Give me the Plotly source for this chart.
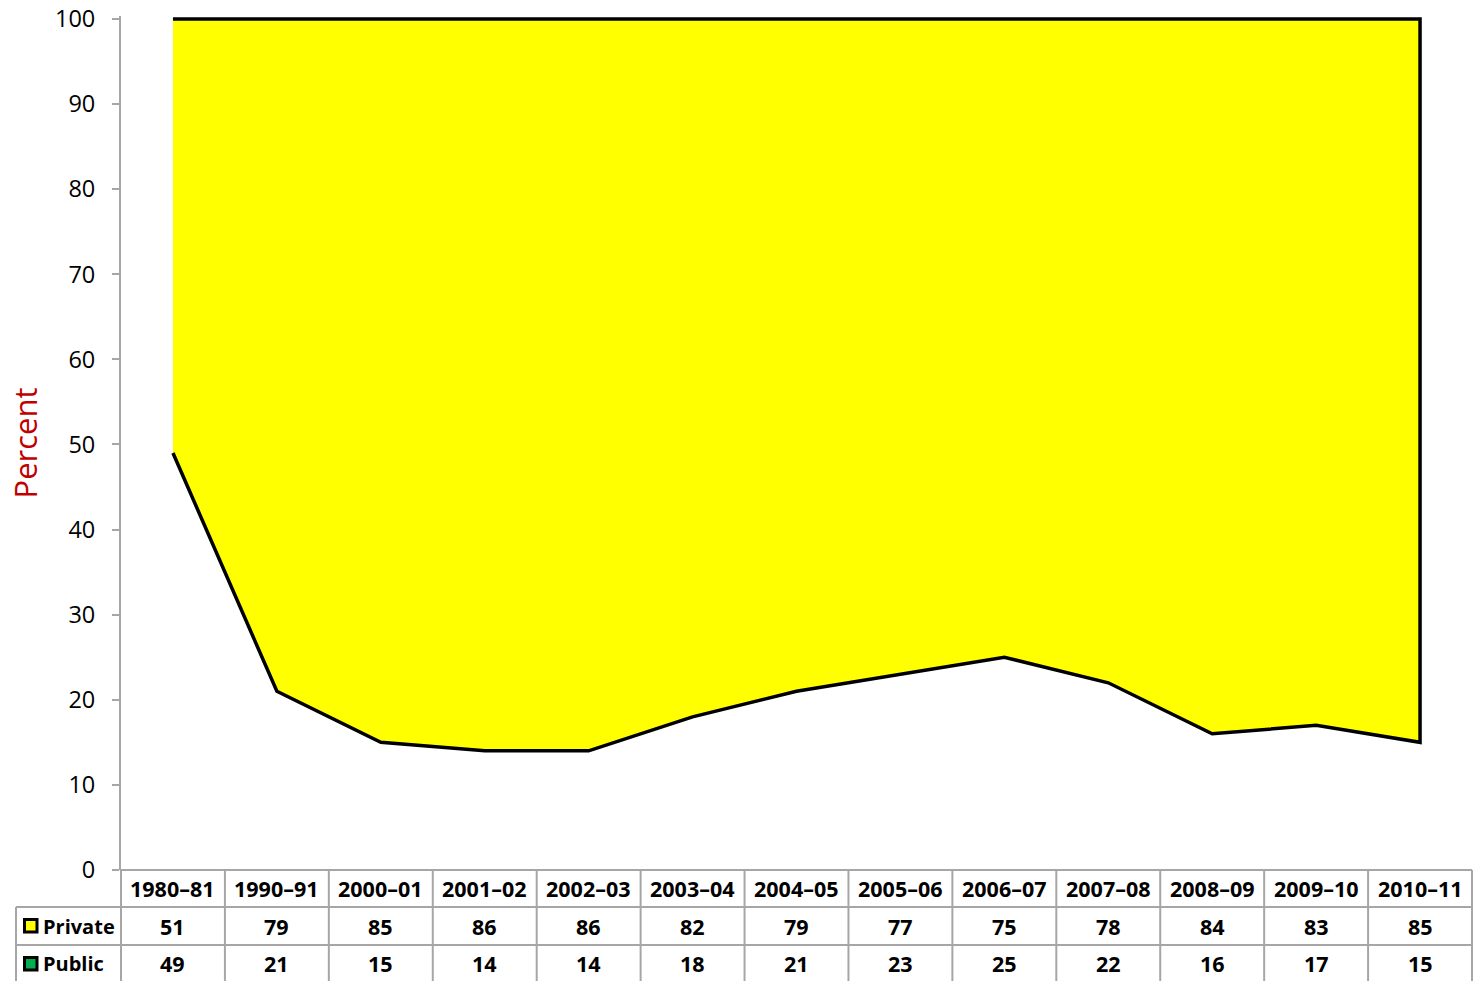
import plotly.graph_objects as go

# School-year categories and enrollment shares (percent)
years = ["1980–81", "1990–91", "2000–01", "2001–02", "2002–03", "2003–04", "2004–05",
         "2005–06", "2006–07", "2007–08", "2008–09", "2009–10", "2010–11"]
private = [51, 79, 85, 86, 86, 82, 79, 77, 75, 78, 84, 83, 85]
public = [49, 21, 15, 14, 14, 18, 21, 23, 25, 22, 16, 17, 15]
y_ticks = [0, 10, 20, 30, 40, 50, 60, 70, 80, 90, 100]

W, H = 1473, 981
ML, MR, MT, MB = 121, 1, 16, 111
FONT = "'Open Sans', Calibri, sans-serif"
GRID = "#a6a6a6"

n = len(years)
xs = list(range(n))
stack_top = [a + b for a, b in zip(public, private)]


def py(px_y):
    """Convert a pixel row to a paper y coordinate."""
    return (H - MB - px_y) / (H - MT - MB)


def px(px_x):
    """Convert a pixel column to a paper x coordinate."""
    return (px_x - ML) / (W - ML - MR)


fig = go.Figure()

# Public share: lower band of the stack, left unfilled
fig.add_trace(go.Scatter(
    x=xs, y=public, mode="lines", line=dict(width=0),
    fill="tozeroy", fillcolor="rgba(255,255,255,0)",
    name="Public", showlegend=False, hoverinfo="skip",
))

# Private share: band stacked from the public share up to the total
fig.add_trace(go.Scatter(
    x=xs + xs[::-1], y=public + stack_top[::-1],
    mode="lines", fill="toself", fillcolor="#ffff00",
    line=dict(color="black", width=3.5), name="Private", showlegend=False,
))

shapes = []
annotations = []
line = dict(color=GRID, width=2)

# Data table under the chart: vertical column borders at category boundaries
for i in range(n + 1):
    xb = i / n
    shapes.append(dict(type="line", xref="paper", yref="paper",
                       x0=xb, x1=xb, y0=py(870), y1=py(985), line=line))
# left label column
shapes.append(dict(type="line", xref="paper", yref="paper",
                   x0=px(16), x1=px(16), y0=py(907), y1=py(985), line=line))
# horizontal row borders
shapes.append(dict(type="line", xref="paper", yref="paper",
                   x0=0, x1=1, y0=py(870), y1=py(870), line=line))
for yb in (907, 945):
    shapes.append(dict(type="line", xref="paper", yref="paper",
                       x0=px(16), x1=1, y0=py(yb), y1=py(yb), line=line))

cell_font = dict(family=FONT, size=21.5, color="black", weight="bold")
label_font = dict(family=FONT, size=20, color="black", weight="bold")

# category header and values
for i, (yr, pv, pu) in enumerate(zip(years, private, public)):
    for txt, yc in ((yr, 888), (str(pv), 926), (str(pu), 964)):
        annotations.append(dict(
            x=i, xref="x", y=py(yc), yref="paper", text=txt, showarrow=False,
            xanchor="center", yanchor="middle", font=cell_font,
        ))

# row labels with colour keys
for label, color, yc in (("Private", "#ffff00", 926), ("Public", "#00b050", 964)):
    shapes.append(dict(type="rect", xref="paper", yref="paper",
                       x0=px(24.5), x1=px(37), y0=py(yc - 6.5), y1=py(yc + 6),
                       fillcolor=color, line=dict(color="black", width=3)))
    annotations.append(dict(
        x=px(41), xref="paper", y=py(yc), yref="paper", text=label, showarrow=False,
        xanchor="left", yanchor="middle", font=label_font,
    ))

fig.update_layout(
    width=W, height=H,
    margin=dict(l=ML, r=MR, t=MT, b=MB, pad=0),
    plot_bgcolor="white", paper_bgcolor="white",
    showlegend=False,
    shapes=shapes, annotations=annotations,
    xaxis=dict(range=[-0.5, n - 0.5], showticklabels=False, showgrid=False,
               zeroline=False, showline=False, ticks=""),
    yaxis=dict(range=[0, 100.35], tickvals=y_ticks, showgrid=False, zeroline=False,
               showline=True, linecolor=GRID, linewidth=2,
               ticks="outside", ticklen=7, tickcolor=GRID, tickwidth=2,
               ticklabelstandoff=12,
               tickfont=dict(family=FONT, size=23.5, color="black"),
               title=dict(text="Percent", standoff=8,
                          font=dict(family=FONT, size=31, color="#c00000"))),
)

fig.write_html("out.html")
